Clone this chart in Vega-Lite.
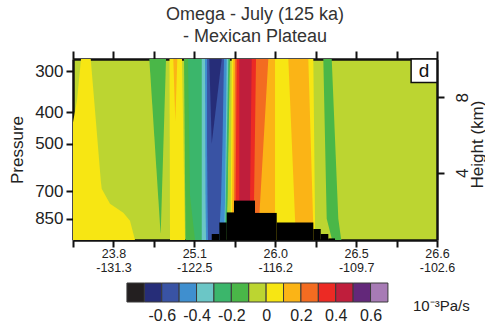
{
  "$schema": "https://vega.github.io/schema/vega-lite/v6.json",
  "background": "white",
  "padding": {"left": 8, "top": 6, "right": 0, "bottom": 0},
  "config": {
    "font": "Liberation Sans",
    "view": {"stroke": null},
    "axis": {"labelFont": "Liberation Sans", "titleFont": "Liberation Sans", "labelColor": "#222", "titleColor": "#222", "tickColor": "#111", "domainColor": "#111", "grid": false, "zindex": 1}
  },
  "datasets": {
    "contours": [
      {"r": "a01", "lo": 0, "p": 275, "xl": 0.198, "xr": 0.438},
      {"r": "a01", "lo": 0, "p": 368.5, "xl": 0.099, "xr": 0.524},
      {"r": "a01", "lo": 0, "p": 430.6, "xl": 0, "xr": 0.569},
      {"r": "a01", "lo": 0, "p": 649.4, "xl": 0, "xr": 0.687},
      {"r": "a01", "lo": 0, "p": 687.3, "xl": 0, "xr": 0.71},
      {"r": "a01", "lo": 0, "p": 764.3, "xl": 0, "xr": 0.915},
      {"r": "a01", "lo": 0, "p": 814.6, "xl": 0, "xr": 1.244},
      {"r": "a01", "lo": 0, "p": 862.1, "xl": 0, "xr": 1.409},
      {"r": "a01", "lo": 0, "p": 988, "xl": 0, "xr": 1.533},
      {"r": "a02", "lo": -0.2, "p": 275, "xl": 1.887, "xr": 2.3},
      {"r": "a02", "lo": -0.2, "p": 938.6, "xl": 2.164, "xr": 2.169},
      {"r": "a03", "lo": 0, "p": 275, "xl": 2.386, "xr": 2.695},
      {"r": "a03", "lo": 0, "p": 988, "xl": 2.399, "xr": 2.77},
      {"r": "a04", "lo": 0.1, "p": 275, "xl": 2.48, "xr": 2.579},
      {"r": "a04", "lo": 0.1, "p": 427.5, "xl": 2.53, "xr": 2.53},
      {"r": "a05", "lo": -0.2, "p": 275, "xl": 2.745, "xr": 3.882},
      {"r": "a05", "lo": -0.2, "p": 988, "xl": 2.782, "xr": 3.8},
      {"r": "a06", "lo": -0.3, "p": 275, "xl": 2.844, "xr": 3.862},
      {"r": "a06", "lo": -0.3, "p": 722.2, "xl": 2.893, "xr": 3.82},
      {"r": "a06", "lo": -0.3, "p": 988, "xl": 3.017, "xr": 3.78},
      {"r": "a07", "lo": -0.4, "p": 275, "xl": 3.183, "xr": 3.84},
      {"r": "a07", "lo": -0.4, "p": 988, "xl": 3.183, "xr": 3.759},
      {"r": "a08", "lo": -0.5, "p": 275, "xl": 3.264, "xr": 3.801},
      {"r": "a08", "lo": -0.5, "p": 748.2, "xl": 3.276, "xr": 3.759},
      {"r": "a08", "lo": -0.5, "p": 988, "xl": 3.289, "xr": 3.734},
      {"r": "a09", "lo": -0.6, "p": 275, "xl": 3.314, "xr": 3.734},
      {"r": "a09", "lo": -0.6, "p": 489.2, "xl": 3.314, "xr": 3.697},
      {"r": "a09", "lo": -0.6, "p": 748.2, "xl": 3.326, "xr": 3.66},
      {"r": "a09", "lo": -0.6, "p": 988, "xl": 3.338, "xr": 3.61},
      {"r": "a10", "lo": -0.7, "p": 275, "xl": 3.37, "xr": 3.677},
      {"r": "a10", "lo": -0.7, "p": 500.8, "xl": 3.43, "xr": 3.43},
      {"r": "a11", "lo": 0, "p": 275, "xl": 3.924, "xr": 5.942},
      {"r": "a11", "lo": 0, "p": 850, "xl": 3.9, "xr": 5.984},
      {"r": "a11", "lo": 0, "p": 988, "xl": 3.88, "xr": 5.984},
      {"r": "a12", "lo": 0.1, "p": 275, "xl": 3.964, "xr": 5.818},
      {"r": "a12", "lo": 0.1, "p": 850, "xl": 3.93, "xr": 5.935},
      {"r": "a12", "lo": 0.1, "p": 988, "xl": 3.92, "xr": 5.94},
      {"r": "a13", "lo": 0, "p": 275, "xl": 4.995, "xr": 5.324},
      {"r": "a13", "lo": 0, "p": 850, "xl": 4.995, "xr": 5.49},
      {"r": "a13", "lo": 0, "p": 988, "xl": 4.995, "xr": 5.514},
      {"r": "a14", "lo": 0.2, "p": 275, "xl": 4.006, "xr": 4.829},
      {"r": "a14", "lo": 0.2, "p": 764.3, "xl": 3.98, "xr": 4.624},
      {"r": "a14", "lo": 0.2, "p": 988, "xl": 3.96, "xr": 4.575},
      {"r": "a15", "lo": 0.3, "p": 275, "xl": 4.048, "xr": 4.525},
      {"r": "a15", "lo": 0.3, "p": 748.2, "xl": 4.02, "xr": 4.476},
      {"r": "a15", "lo": 0.3, "p": 988, "xl": 4.0, "xr": 4.45},
      {"r": "a16", "lo": 0.4, "p": 275, "xl": 4.112, "xr": 4.419},
      {"r": "a16", "lo": 0.4, "p": 748.2, "xl": 4.112, "xr": 4.377},
      {"r": "a16", "lo": 0.4, "p": 988, "xl": 4.11, "xr": 4.36},
      {"r": "a17", "lo": -0.2, "p": 275, "xl": 6.189, "xr": 6.397},
      {"r": "a17", "lo": -0.2, "p": 850, "xl": 6.273, "xr": 6.56},
      {"r": "a17", "lo": -0.2, "p": 977, "xl": 6.397, "xr": 6.627},
      {"r": "a17", "lo": -0.2, "p": 988, "xl": 6.405, "xr": 6.64}
    ],
    "topo": [
      {"x": 3.43, "x2": 3.618, "p": 947},
      {"x": 3.618, "x2": 3.801, "p": 873},
      {"x": 3.801, "x2": 3.981, "p": 813},
      {"x": 3.981, "x2": 4.5, "p": 748},
      {"x": 4.5, "x2": 5.037, "p": 816},
      {"x": 5.037, "x2": 5.942, "p": 873},
      {"x": 5.942, "x2": 6.125, "p": 914},
      {"x": 6.125, "x2": 6.313, "p": 947},
      {"x": 6.313, "x2": 6.479, "p": 977}
    ],
    "panel": [
      {"x": 8.36, "x2": 9, "h": 8.78, "h2": 10.02, "t": "d", "tx": 8.68, "ty": 9.4}
    ],
    "bar": [
      {"lo": -0.8, "hi": -0.7}, {"lo": -0.7, "hi": -0.6}, {"lo": -0.6, "hi": -0.5},
      {"lo": -0.5, "hi": -0.4}, {"lo": -0.4, "hi": -0.3}, {"lo": -0.3, "hi": -0.2},
      {"lo": -0.2, "hi": -0.1}, {"lo": -0.1, "hi": 0}, {"lo": 0, "hi": 0.1},
      {"lo": 0.1, "hi": 0.2}, {"lo": 0.2, "hi": 0.3}, {"lo": 0.3, "hi": 0.4},
      {"lo": 0.4, "hi": 0.5}, {"lo": 0.5, "hi": 0.6}, {"lo": 0.6, "hi": 0.7}
    ],
    "unit": [{"v": 0.844, "y": -0.21, "t": "10⁻³Pa/s"}]
  },
  "spacing": 8,
  "resolve": {"scale": {"x": "independent", "y": "independent", "color": "shared"}},
  "vconcat": [
    {
      "width": 364,
      "height": 181,
      "title": {"text": ["Omega - July (125 ka)", "- Mexican Plateau"], "fontSize": 18, "fontWeight": "normal", "lineHeight": 22, "color": "#333", "anchor": "middle", "offset": 4},
      "view": {"fill": "#bcd531", "stroke": null},
      "resolve": {"scale": {"y": "independent"}, "axis": {"x": "independent", "y": "independent"}},
      "layer": [
        {
          "layer": [
            {
              "data": {"name": "contours"},
              "mark": {"type": "area", "orient": "horizontal", "interpolate": "linear"},
              "encoding": {
                "y": {"field": "p", "type": "quantitative", "scale": {"type": "log", "domain": [275, 988], "reverse": true, "nice": false, "zero": false},
                  "axis": {"orient": "left", "values": [300, 400, 500, 700, 850], "title": "Pressure", "titleFontSize": 17, "titleFontWeight": "normal", "titlePadding": 8, "labelFontSize": 17, "labelPadding": 3, "tickSize": 7, "tickWidth": 2, "domainWidth": 2.5}},
                "x": {"field": "xl", "type": "quantitative", "stack": null, "scale": {"domain": [0, 9], "nice": false, "zero": false},
                  "axis": {"orient": "bottom", "values": [0, 1, 2, 3, 4, 5, 6, 7, 8, 9], "title": null, "tickSize": 7, "tickWidth": 2, "domainWidth": 2.5, "labelFontSize": 12.5, "labelLineHeight": 14, "labelPadding": 0, "labelBound": false, "labelFlush": false, "labelOverlap": false,
                    "labelExpr": "datum.value == 1 ? ['23.8', '-131.3'] : datum.value == 3 ? ['25.1', '-122.5'] : datum.value == 5 ? ['26.0', '-116.2'] : datum.value == 7 ? ['26.5', '-109.7'] : datum.value == 9 ? ['26.6', '-102.6'] : ''"}},
                "x2": {"field": "xr"},
                "color": {"field": "lo", "type": "ordinal", "legend": null,
                  "scale": {"domain": [-0.8, -0.7, -0.6, -0.5, -0.4, -0.3, -0.2, -0.1, 0, 0.1, 0.2, 0.3, 0.4, 0.5, 0.6],
                    "range": ["#231f20", "#262d78", "#3953a4", "#3f8fcf", "#6bc6c6", "#3bb66b", "#4ab748", "#bcd531", "#f7e613", "#fbb416", "#f36c21", "#ec2a24", "#bf1e3c", "#63287a", "#a77bb5"]}},
                "detail": {"field": "r"}
              }
            },
            {
              "data": {"name": "topo"},
              "mark": {"type": "rect", "color": "#000"},
              "encoding": {
                "x": {"field": "x", "type": "quantitative"},
                "x2": {"field": "x2"},
                "y": {"field": "p", "type": "quantitative"},
                "y2": {"datum": 988}
              }
            }
          ]
        },
        {
          "data": {"name": "panel"},
          "encoding": {
            "x": {"field": "x", "type": "quantitative",
              "axis": {"orient": "top", "values": [0, 1, 2, 3, 4, 5, 6, 7, 8, 9], "labels": false, "title": null, "tickSize": 8, "tickWidth": 2, "domainWidth": 2.5}},
            "y": {"field": "h", "type": "quantitative", "scale": {"domain": [0.44, 10.02], "nice": false, "zero": false},
              "axis": {"orient": "right", "values": [4, 8], "title": "Height (km)", "titleAngle": -90, "titleAlign": "center", "titleBaseline": "middle", "titleX": 40, "titleY": 85, "titleFontSize": 17, "titleFontWeight": "normal", "labelAngle": -90, "labelAlign": "center", "labelBaseline": "top", "labelFontSize": 17, "labelPadding": 10, "tickSize": 7, "tickWidth": 2, "domainWidth": 2.5}}
          },
          "layer": [
            {
              "mark": {"type": "rect", "fill": "white", "stroke": "#111", "strokeWidth": 1.5},
              "encoding": {
                "x2": {"field": "x2"},
                "y2": {"field": "h2"}
              }
            },
            {
              "mark": {"type": "text", "fontSize": 19, "color": "#111", "align": "center", "baseline": "middle"},
              "encoding": {
                "x": {"field": "tx", "type": "quantitative"},
                "y": {"field": "ty", "type": "quantitative"},
                "text": {"field": "t"}
              }
            }
          ]
        }
      ]
    },
    {
      "width": 364,
      "height": 19,
      "view": {"stroke": null},
      "layer": [
        {
          "data": {"name": "bar"},
          "mark": {"type": "rect", "stroke": "#3a3a3a", "strokeWidth": 1},
          "encoding": {
            "x": {"field": "lo", "type": "quantitative", "scale": {"domain": [-1.11, 0.982], "nice": false, "zero": false},
              "axis": {"values": [-0.6, -0.4, -0.2, 0, 0.2, 0.4, 0.6], "ticks": false, "domain": false, "title": null, "labelFontSize": 16, "labelPadding": 5, "labelExpr": "datum.value == 0 ? '0' : '' + datum.value"}},
            "x2": {"field": "hi"},
            "color": {"field": "lo", "type": "ordinal", "legend": null}
          }
        },
        {
          "data": {"name": "unit"},
          "mark": {"type": "text", "fontSize": 15, "color": "#222", "align": "left", "baseline": "middle"},
          "encoding": {
            "x": {"field": "v", "type": "quantitative"},
            "y": {"field": "y", "type": "quantitative", "scale": {"domain": [0, 1]}, "axis": null},
            "text": {"field": "t"}
          }
        }
      ]
    }
  ]
}
